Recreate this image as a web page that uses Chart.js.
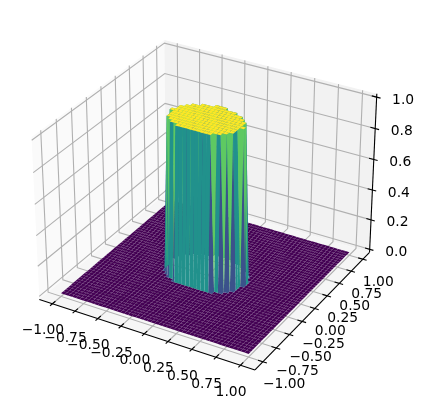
<!DOCTYPE html>
<html>
<head>
<meta charset="utf-8">
<title>Surface</title>
<script src="https://cdn.jsdelivr.net/npm/chart.js@4/dist/chart.umd.js"></script>
<style>
  html, body { margin: 0; padding: 0; background: #fff; }
  canvas { display: block; }
</style>
</head>
<body>
<canvas id="chart" width="424" height="413"></canvas>
<script>
// ── Data ────────────────────────────────────────────────────────────────────
const gridValues = [
  -1.000, -0.959, -0.918, -0.878, -0.837, -0.796, -0.755, -0.714, -0.673, -0.633,
  -0.592, -0.551, -0.510, -0.469, -0.429, -0.388, -0.347, -0.306, -0.265, -0.224,
  -0.184, -0.143, -0.102, -0.061, -0.020, 0.020, 0.061, 0.102, 0.143, 0.184,
  0.224, 0.265, 0.306, 0.347, 0.388, 0.429, 0.469, 0.510, 0.551, 0.592,
  0.633, 0.673, 0.714, 0.755, 0.796, 0.837, 0.878, 0.918, 0.959, 1.000,
];
// z is 1 between these columns for grid rows 18..31, and 0 everywhere else
const capFirstRow = 18;
const capFirstCol = [20, 18, 17, 16, 16, 16, 15, 15, 16, 16, 17, 18, 20, 23];
const capLastCol  = [29, 31, 32, 33, 33, 33, 34, 34, 33, 33, 32, 31, 29, 26];

const xyTicks = [-1, -0.75, -0.5, -0.25, 0, 0.25, 0.5, 0.75, 1];
const xyTickLabels = ['−1.00', '−0.75', '−0.50', '−0.25', '0.00', '0.25', '0.50', '0.75', '1.00'];
const zTicks = [0, 0.2, 0.4, 0.6, 0.8, 1];
const zTickLabels = ['0.0', '0.2', '0.4', '0.6', '0.8', '1.0'];

// viridis at mean face height 0, .25, .5, .75, 1
const faceColors = ['#440154', '#3b528b', '#21918c', '#5ec962', '#fde725'];

// ── View (elev 30, azim -60, box 4:4:3) ─────────────────────────────────────
const XY_LIM = 1.146, Z_MIN = -0.0208, Z_MAX = 1.0208;
const DIST = 10;
const BOX = [1.1905, 1.1905, 0.8929];
const PX_PER_UNIT = 2075, CENTER_X = 207.5, CENTER_Y = 197;

const el = 30 * Math.PI / 180, az = -60 * Math.PI / 180;
const W = [Math.cos(el) * Math.cos(az), Math.cos(el) * Math.sin(az), Math.sin(el)];
const U = [-Math.sin(az), Math.cos(az), 0];
const V = [W[1] * U[2] - W[2] * U[1], W[2] * U[0] - W[0] * U[2], W[0] * U[1] - W[1] * U[0]];

function project(x, y, z) {
  const p = [
    (x + XY_LIM) / (2 * XY_LIM) * BOX[0] - BOX[0] / 2 - DIST * W[0],
    (y + XY_LIM) / (2 * XY_LIM) * BOX[1] - BOX[1] / 2 - DIST * W[1],
    (z - Z_MIN) / (Z_MAX - Z_MIN) * BOX[2] - BOX[2] / 2 - DIST * W[2],
  ];
  const dot = a => a[0] * p[0] + a[1] * p[1] + a[2] * p[2];
  const d = -dot(W);
  return { x: dot(U) / d, y: dot(V) / d, depth: -DIST / d };
}

// ── Dataset helpers ─────────────────────────────────────────────────────────
function lineSet(points, color, width) {
  return {
    data: points.map(p => project(p[0], p[1], p[2])),
    showLine: true, fill: false, borderColor: color, borderWidth: width,
    pointRadius: 0, tension: 0,
  };
}

function polySet(points, color) {
  return {
    data: points.concat([points[0]]),
    showLine: true, fill: 'shape', backgroundColor: color, borderWidth: 0,
    pointRadius: 0, tension: 0,
  };
}

function height(row, col) {
  const i = row - capFirstRow;
  if (i < 0 || i >= capFirstCol.length) return 0;
  return col >= capFirstCol[i] && col <= capLastCol[i] ? 1 : 0;
}

// panes
const L = XY_LIM;
const paneSets = [
  polySet([[-L, -L, Z_MIN], [-L, L, Z_MIN], [-L, L, Z_MAX], [-L, -L, Z_MAX]].map(p => project(...p)), '#fafafa'),
  polySet([[-L, L, Z_MIN], [L, L, Z_MIN], [L, L, Z_MAX], [-L, L, Z_MAX]].map(p => project(...p)), '#f2f2f2'),
  polySet([[-L, -L, Z_MIN], [L, -L, Z_MIN], [L, L, Z_MIN], [-L, L, Z_MIN]].map(p => project(...p)), '#f6f6f6'),
];

// grid lines
const GRID = '#b0b0b0';
const LINE_W = 1.1;
const gridSets = [];
xyTicks.forEach(t => {
  gridSets.push(lineSet([[t, -L, Z_MIN], [t, L, Z_MIN], [t, L, Z_MAX]], GRID, LINE_W));
  gridSets.push(lineSet([[L, t, Z_MIN], [-L, t, Z_MIN], [-L, t, Z_MAX]], GRID, LINE_W));
});
zTicks.forEach(t => {
  gridSets.push(lineSet([[-L, -L, t], [-L, L, t], [L, L, t]], GRID, LINE_W));
});

// axis lines and tick marks
const TICK_OUT = 0.04, TICK_IN = 0.05;
const axisSets = [
  lineSet([[-L, -L, Z_MIN], [L, -L, Z_MIN]], '#000', LINE_W),
  lineSet([[L, -L, Z_MIN], [L, L, Z_MIN]], '#000', LINE_W),
  lineSet([[L, L, Z_MIN], [L, L, Z_MAX]], '#000', LINE_W),
];
xyTicks.forEach(t => {
  axisSets.push(lineSet([[t, -L - TICK_OUT, Z_MIN], [t, -L + TICK_IN, Z_MIN]], '#000', LINE_W));
  axisSets.push(lineSet([[L + TICK_OUT, t, Z_MIN], [L - TICK_IN, t, Z_MIN]], '#000', LINE_W));
});
zTicks.forEach(t => {
  axisSets.push(lineSet([[L + TICK_OUT, L, t], [L - TICK_IN, L, t]], '#000', LINE_W));
});

// surface faces, far to near
const faces = [];
for (let r = 0; r < gridValues.length - 1; r++) {
  for (let c = 0; c < gridValues.length - 1; c++) {
    const corners = [[r, c], [r, c + 1], [r + 1, c + 1], [r + 1, c]];
    const zs = corners.map(([a, b]) => height(a, b));
    const pts = corners.map(([a, b], i) => project(gridValues[b], gridValues[a], zs[i]));
    faces.push({
      pts,
      depth: pts.reduce((s, p) => s + p.depth, 0) / 4,
      level: zs.reduce((s, z) => s + z, 0),
    });
  }
}
faces.sort((a, b) => b.depth - a.depth);
const faceSets = faces.map(f => polySet(f.pts, faceColors[f.level]));

// Chart.js paints dataset 0 last
const datasets = [...paneSets, ...gridSets, ...axisSets, ...faceSets].reverse();

// ── Tick labels ─────────────────────────────────────────────────────────────
const tickText = {
  id: 'tickText',
  afterDatasetsDraw(chart) {
    const { ctx, scales } = chart;
    const put = (text, p, dx, dy, align) => {
      ctx.textAlign = align;
      ctx.fillText(text, scales.x.getPixelForValue(p.x) + dx, scales.y.getPixelForValue(p.y) + dy);
    };
    ctx.save();
    ctx.fillStyle = '#000';
    ctx.font = "13.89px 'DejaVu Sans'";
    ctx.textBaseline = 'middle';
    xyTicks.forEach((t, i) => {
      put(xyTickLabels[i], project(t, -L, Z_MIN), -9.5, 27, 'center');
      put(xyTickLabels[i], project(L, t, Z_MIN), 0, 23, 'left');
    });
    zTicks.forEach((t, i) => {
      put(zTickLabels[i], project(L, L, t), 26.5, 3, 'center');
    });
    ctx.restore();
  },
};

// ── Chart ───────────────────────────────────────────────────────────────────
new Chart(document.getElementById('chart'), {
  type: 'scatter',
  data: { datasets },
  options: {
    responsive: false,
    animation: false,
    parsing: false,
    normalized: true,
    events: [],
    layout: { padding: 0 },
    plugins: { legend: { display: false }, tooltip: { enabled: false } },
    scales: {
      x: { type: 'linear', display: false, min: -CENTER_X / PX_PER_UNIT, max: (424 - CENTER_X) / PX_PER_UNIT },
      y: { type: 'linear', display: false, min: (CENTER_Y - 413) / PX_PER_UNIT, max: CENTER_Y / PX_PER_UNIT },
    },
  },
  plugins: [tickText],
});
</script>
</body>
</html>
